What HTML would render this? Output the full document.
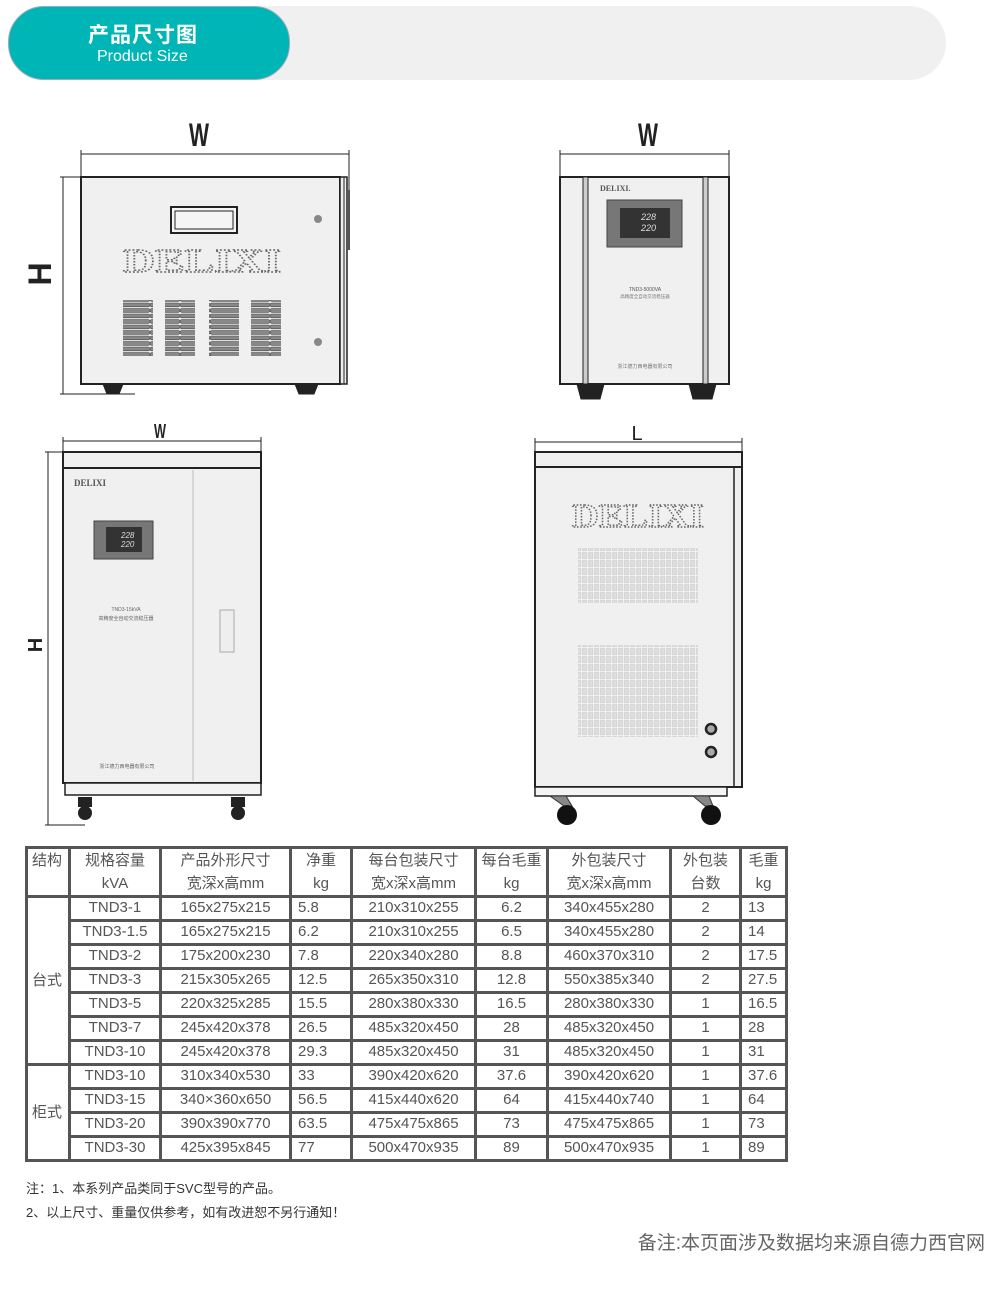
<!DOCTYPE html>
<html><head><meta charset="utf-8"><style>
body{margin:0;width:990px;height:1290px;background:#fff;position:relative;overflow:hidden;font-family:"Liberation Sans","Noto Sans CJK SC",sans-serif;}
.a{position:absolute}
table{position:absolute;left:25px;top:846px;border-collapse:collapse;font-size:15px;color:#555;}
td{border:3px solid #555;height:21px;padding:0;text-align:center;line-height:20px;vertical-align:top;}
td.l{text-align:left;padding-left:6px}
tr.h td{height:44px;line-height:23px;padding-top:0}
td.s{vertical-align:middle;text-align:left;padding-left:4px}
</style></head><body>
<div class="a" style="left:8px;top:6px;width:938px;height:74px;background:#f0f0f0;border-radius:37px"></div>
<div class="a" style="left:8px;top:6px;width:280px;height:72px;background:#00b5b5;border-radius:36px;border:1px solid #9ab;"></div>
<div class="a" style="left:88px;top:24px;color:#fff;font-weight:bold;font-size:21px;line-height:24px;letter-spacing:1px">产品尺寸图</div>
<div class="a" style="left:97px;top:48px;color:#fff;font-size:16px;line-height:18px">Product Size</div>

<svg class="a" style="left:0;top:0" width="990" height="840" font-family="Liberation Sans Narrow, Liberation Sans, sans-serif">
<defs>
<pattern id="vent" width="6" height="8" patternUnits="userSpaceOnUse"><rect x="0.5" y="0.5" width="4" height="6" fill="#ddd" stroke="#ccc" stroke-width="0.6"/></pattern>
<pattern id="bars" width="30" height="5.5" patternUnits="userSpaceOnUse"><rect x="0" y="0.5" width="30" height="3.8" rx="1.9" fill="#888" stroke="#444" stroke-width="0.6"/></pattern>
</defs>
<g stroke="#222" fill="none">
<line x1="81" y1="154" x2="349" y2="154"/><line x1="81" y1="150" x2="81" y2="177"/><line x1="349" y1="150" x2="349" y2="200"/>
<line x1="63" y1="177" x2="63" y2="394"/><line x1="60" y1="177" x2="81" y2="177"/><line x1="60" y1="394" x2="135" y2="394"/>
<rect x="81" y="177" width="259" height="207" fill="#f0f0f0" stroke-width="2"/>
<rect x="340" y="177" width="7" height="207" fill="#eee" stroke-width="1.5"/>
<line x1="344" y1="177" x2="344" y2="384"/>
<line x1="349" y1="190" x2="349" y2="250" stroke-width="2" stroke="#555"/>
<rect x="171" y="207" width="66" height="26" stroke-width="2" fill="#f4f4f4"/><rect x="175" y="211" width="58" height="18"/>
<path d="M103 384h20l-4 10h-12z M295 384h23l-4 10h-15z" fill="#222"/>
<circle cx="318" cy="219" r="4" fill="#888" stroke="none"/><circle cx="318" cy="342" r="4" fill="#888" stroke="none"/>
</g>
<rect x="123" y="300" width="30" height="56" fill="url(#bars)"/><rect x="165" y="300" width="30" height="56" fill="url(#bars)"/>
<rect x="209" y="300" width="30" height="56" fill="url(#bars)"/><rect x="251" y="300" width="30" height="56" fill="url(#bars)"/>
<text x="202" y="272" font-family="Liberation Serif,serif" font-size="34" font-weight="bold" fill="none" stroke="#666" stroke-width="1.4" stroke-dasharray="1.5 1.5" text-anchor="middle" textLength="158" lengthAdjust="spacingAndGlyphs">DELIXI</text>
<text x="199" y="146" font-size="32" font-weight="bold" text-anchor="middle" fill="#222" textLength="20" lengthAdjust="spacingAndGlyphs">W</text>
<text x="0" y="0" font-size="32" font-weight="bold" fill="#222" text-anchor="middle" transform="translate(51,274) rotate(-90)">H</text>

<g stroke="#222" fill="none">
<line x1="560" y1="154" x2="729" y2="154"/><line x1="560" y1="150" x2="560" y2="177"/><line x1="729" y1="150" x2="729" y2="177"/>
<rect x="560" y="177" width="169" height="207" fill="#f0f0f0" stroke-width="2"/>
<rect x="583" y="177" width="5" height="207" fill="#ccc" stroke-width="1"/><rect x="703" y="177" width="5" height="207" fill="#ccc" stroke-width="1"/>
<path d="M577 384h27l-4 15h-19z M689 384h27l-4 15h-19z" fill="#222"/>
</g>
<rect x="607" y="200" width="75" height="47" fill="#777" stroke="#444"/>
<rect x="620" y="208" width="50" height="30" fill="#333"/>
<text x="641" y="220" font-size="9" fill="#ddd" font-style="italic">228</text><text x="641" y="231" font-size="9" fill="#ddd" font-style="italic">220</text>
<text x="600" y="191" font-family="Liberation Serif,serif" font-weight="bold" font-size="8" fill="#555">DELIXI.</text>
<text x="645" y="291" font-size="5" fill="#555" text-anchor="middle">TND3-5000VA</text>
<text x="645" y="298" font-size="4.5" fill="#777" text-anchor="middle">高精度全自动交流稳压器</text>
<text x="645" y="368" font-size="5" fill="#777" text-anchor="middle">浙江德力西电器有限公司</text>
<text x="648" y="146" font-size="32" font-weight="bold" text-anchor="middle" fill="#222" textLength="20" lengthAdjust="spacingAndGlyphs">W</text>

<g stroke="#222" fill="none">
<line x1="63" y1="441" x2="261" y2="441"/><line x1="63" y1="437" x2="63" y2="452"/><line x1="261" y1="437" x2="261" y2="452"/>
<line x1="48" y1="452" x2="48" y2="825"/><line x1="45" y1="452" x2="63" y2="452"/><line x1="45" y1="825" x2="85" y2="825"/>
<rect x="63" y="452" width="198" height="16" fill="#f0f0f0" stroke-width="2"/>
<rect x="63" y="468" width="198" height="315" fill="#f0f0f0" stroke-width="2"/>
<line x1="193" y1="470" x2="193" y2="781" stroke="#bbb"/>
<rect x="65" y="783" width="196" height="12" fill="#f4f4f4" stroke-width="1.5"/>
<rect x="220" y="610" width="14" height="42" fill="#eee" stroke="#aaa"/>
</g>
<rect x="94" y="521" width="59" height="38" fill="#777" stroke="#444"/><rect x="106" y="527" width="36" height="25" fill="#333"/>
<text x="121" y="538" font-size="8" fill="#ddd" font-style="italic">228</text><text x="121" y="547" font-size="8" fill="#ddd" font-style="italic">220</text>
<text x="74" y="486" font-family="Liberation Serif,serif" font-weight="bold" font-size="9" fill="#555">DELIXI</text>
<text x="126" y="611" font-size="5" fill="#666" text-anchor="middle">TND3-15kVA</text>
<text x="126" y="620" font-size="5" fill="#666" text-anchor="middle">高精度全自动交流稳压器</text>
<text x="127" y="768" font-size="5" fill="#666" text-anchor="middle">浙江德力西电器有限公司</text>
<g fill="#222"><rect x="78" y="797" width="14" height="10"/><circle cx="85" cy="813" r="7"/><rect x="231" y="797" width="14" height="10"/><circle cx="238" cy="813" r="7"/></g>
<text x="160" y="438" font-size="20" font-weight="bold" text-anchor="middle" fill="#222" textLength="12" lengthAdjust="spacingAndGlyphs">W</text>
<text x="0" y="0" font-size="20" font-weight="bold" fill="#222" text-anchor="middle" transform="translate(42,645) rotate(-90)">H</text>

<g stroke="#222" fill="none">
<line x1="535" y1="442" x2="742" y2="442"/><line x1="535" y1="438" x2="535" y2="452"/><line x1="742" y1="438" x2="742" y2="452"/>
<rect x="535" y="452" width="207" height="15" fill="#f0f0f0" stroke-width="2"/>
<rect x="535" y="467" width="207" height="320" fill="#f0f0f0" stroke-width="2"/>
<line x1="734" y1="467" x2="734" y2="787" stroke-width="1.5"/>
<rect x="535" y="787" width="192" height="9" fill="#f4f4f4" stroke-width="1.5"/>
<circle cx="711" cy="729" r="5" stroke-width="2.5" fill="#aaa"/><circle cx="711" cy="752" r="5" stroke-width="2.5" fill="#aaa"/>
</g>
<rect x="578" y="548" width="120" height="55" fill="url(#vent)"/><rect x="578" y="645" width="120" height="92" fill="url(#vent)"/>
<text x="638" y="527" font-family="Liberation Serif,serif" font-size="34" font-weight="bold" fill="none" stroke="#666" stroke-width="1.4" stroke-dasharray="1.5 1.5" text-anchor="middle" textLength="132" lengthAdjust="spacingAndGlyphs">DELIXI</text>
<g fill="#111"><path d="M550 796h16l6 10h-8z" fill="#888" stroke="#333"/><circle cx="567" cy="815" r="10"/><path d="M693 796h16l4 10h-8z" fill="#888" stroke="#333"/><circle cx="711" cy="815" r="10"/></g>
<text x="637" y="440" font-size="20" text-anchor="middle" fill="#222">L</text>
</svg>

<table>
<colgroup><col style="width:43px"><col style="width:91px"><col style="width:130px"><col style="width:61px"><col style="width:124px"><col style="width:72px"><col style="width:123px"><col style="width:70px"><col style="width:46px"></colgroup>
<tr class="h"><td style="text-align:left;padding-left:4px">结构</td><td>规格容量<br>kVA</td><td>产品外形尺寸<br>宽深x高mm</td><td>净重<br>kg</td><td>每台包装尺寸<br>宽x深x高mm</td><td>每台毛重<br>kg</td><td>外包装尺寸<br>宽x深x高mm</td><td>外包装<br>台数</td><td>毛重<br>kg</td></tr>
<tr><td rowspan="7" class="s">台式</td><td>TND3-1</td><td>165x275x215</td><td class="l">5.8</td><td>210x310x255</td><td>6.2</td><td>340x455x280</td><td>2</td><td class="l">13</td></tr>
<tr><td>TND3-1.5</td><td>165x275x215</td><td class="l">6.2</td><td>210x310x255</td><td>6.5</td><td>340x455x280</td><td>2</td><td class="l">14</td></tr>
<tr><td>TND3-2</td><td>175x200x230</td><td class="l">7.8</td><td>220x340x280</td><td>8.8</td><td>460x370x310</td><td>2</td><td class="l">17.5</td></tr>
<tr><td>TND3-3</td><td>215x305x265</td><td class="l">12.5</td><td>265x350x310</td><td>12.8</td><td>550x385x340</td><td>2</td><td class="l">27.5</td></tr>
<tr><td>TND3-5</td><td>220x325x285</td><td class="l">15.5</td><td>280x380x330</td><td>16.5</td><td>280x380x330</td><td>1</td><td class="l">16.5</td></tr>
<tr><td>TND3-7</td><td>245x420x378</td><td class="l">26.5</td><td>485x320x450</td><td>28</td><td>485x320x450</td><td>1</td><td class="l">28</td></tr>
<tr><td>TND3-10</td><td>245x420x378</td><td class="l">29.3</td><td>485x320x450</td><td>31</td><td>485x320x450</td><td>1</td><td class="l">31</td></tr>
<tr><td rowspan="4" class="s">柜式</td><td>TND3-10</td><td>310x340x530</td><td class="l">33</td><td>390x420x620</td><td>37.6</td><td>390x420x620</td><td>1</td><td class="l">37.6</td></tr>
<tr><td>TND3-15</td><td>340×360x650</td><td class="l">56.5</td><td>415x440x620</td><td>64</td><td>415x440x740</td><td>1</td><td class="l">64</td></tr>
<tr><td>TND3-20</td><td>390x390x770</td><td class="l">63.5</td><td>475x475x865</td><td>73</td><td>475x475x865</td><td>1</td><td class="l">73</td></tr>
<tr><td>TND3-30</td><td>425x395x845</td><td class="l">77</td><td>500x470x935</td><td>89</td><td>500x470x935</td><td>1</td><td class="l">89</td></tr>
</table>

<div class="a" style="left:26px;top:1178px;font-size:13px;color:#333">注：1、本系列产品类同于SVC型号的产品。</div>
<div class="a" style="left:26px;top:1202px;font-size:13px;color:#333">2、以上尺寸、重量仅供参考，如有改进恕不另行通知！</div>
<div class="a" style="right:5px;top:1228px;font-size:19px;color:#666">备注:本页面涉及数据均来源自德力西官网</div>
</body></html>
